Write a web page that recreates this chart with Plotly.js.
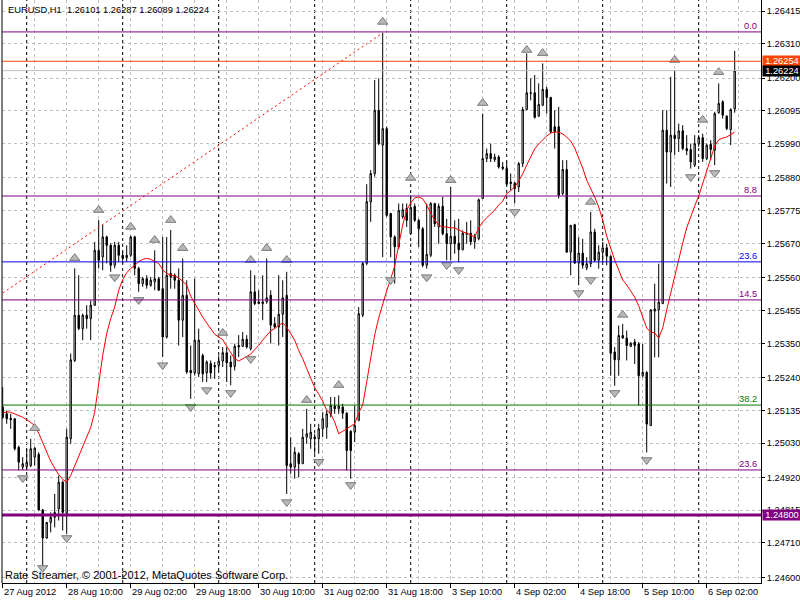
<!DOCTYPE html>
<html><head><meta charset="utf-8">
<script src="https://cdn.plot.ly/plotly-3.0.1.min.js"></script>
<style>html,body{margin:0;padding:0;background:#fff}#chart{width:800px;height:600px}</style>
</head><body><div id="chart"></div>
<script>
const symbol = "EURUSD,H1";
const footerText = "Rate Streamer, \u00a9 2001-2012, MetaQuotes Software Corp.";

const open = [1.25146,1.25124,1.25110,1.25108,1.25017,1.24953,1.24955,1.24958,1.24985,1.24994,
1.24816,1.24726,1.24776,1.24792,1.24819,1.24905,1.24805,1.25044,1.25295,1.25440,
1.25397,1.25440,1.25429,1.25472,1.25648,1.25627,1.25691,1.25664,1.25600,1.25664,
1.25632,1.25624,1.25632,1.25691,1.25590,1.25541,1.25557,1.25536,1.25547,1.25557,
1.25525,1.25370,1.25574,1.25568,1.25552,1.25424,1.25504,1.25263,1.25255,1.25252,
1.25311,1.25255,1.25285,1.25274,1.25279,1.25293,1.25320,1.25290,1.25276,1.25338,
1.25340,1.25363,1.25333,1.25515,1.25477,1.25477,1.25483,1.25504,1.25413,1.25402,
1.25443,1.25504,1.24964,1.24953,1.24996,1.24964,1.25049,1.25044,1.25049,1.25044,
1.25076,1.25081,1.25124,1.25149,1.25140,1.25146,1.25126,1.25068,1.25065,1.25103,
1.25440,1.25606,1.25803,1.25894,1.26097,1.25985,1.26038,1.25766,1.25691,1.25659,
1.25755,1.25782,1.25701,1.25789,1.25744,1.25717,1.25600,1.25632,1.25798,1.25723,
1.25789,1.25701,1.25669,1.25693,1.25671,1.25650,1.25699,1.25703,1.25675,1.25685,
1.25814,1.25942,1.25958,1.25939,1.25947,1.25915,1.25910,1.25867,1.25864,1.25851,
1.25926,1.26099,1.26151,1.26153,1.26078,1.26113,1.26164,1.26138,1.26044,1.26044,
1.25830,1.25907,1.25642,1.25730,1.25607,1.25639,1.25592,1.25605,1.25707,1.25616,
1.25642,1.25656,1.25629,1.25322,1.25297,1.25375,1.25367,1.25340,1.25354,1.25348,
1.25246,1.25257,1.25086,1.25453,1.25457,1.25477,1.26033,1.25963,1.26017,1.26006,
1.26031,1.25974,1.25971,1.25921,1.25990,1.26009,1.25942,1.25988,1.25969,1.26089,
1.26124,1.26078,1.26035,1.26101];

const high = [1.25210,1.25135,1.25124,1.25110,1.25022,1.24985,1.25012,1.25044,1.25017,1.25001,
1.24819,1.24776,1.24808,1.24867,1.24926,1.24910,1.25076,1.25317,1.25590,1.25568,
1.25445,1.25472,1.25488,1.25675,1.25745,1.25729,1.25695,1.25670,1.25675,1.25675,
1.25643,1.25664,1.25695,1.25695,1.25595,1.25563,1.25568,1.25563,1.25648,1.25563,
1.25691,1.25691,1.25713,1.25574,1.25590,1.25622,1.25552,1.25343,1.25557,1.25397,
1.25317,1.25295,1.25295,1.25290,1.25311,1.25338,1.25338,1.25311,1.25349,1.25376,
1.25386,1.25376,1.25584,1.25568,1.25520,1.25568,1.25622,1.25520,1.25434,1.25568,
1.25552,1.25579,1.25049,1.25017,1.25001,1.25076,1.25140,1.25092,1.25060,1.25092,
1.25129,1.25135,1.25178,1.25178,1.25183,1.25156,1.25129,1.25071,1.25151,1.25466,
1.25611,1.25860,1.25905,1.26194,1.26199,1.26345,1.26044,1.25768,1.25696,1.25798,
1.25798,1.25798,1.25824,1.25798,1.25749,1.25723,1.25798,1.25803,1.25800,1.25798,
1.25819,1.25749,1.25851,1.25744,1.25749,1.25712,1.25739,1.25744,1.25701,1.25814,
1.26086,1.25974,1.25990,1.25958,1.25953,1.25931,1.25931,1.25894,1.25867,1.25931,
1.26108,1.26279,1.26199,1.26210,1.26183,1.26247,1.26172,1.26140,1.26097,1.26108,
1.25937,1.25937,1.25728,1.25733,1.25690,1.25685,1.25626,1.25771,1.25717,1.25664,
1.25675,1.25669,1.25632,1.25338,1.25407,1.25412,1.25391,1.25354,1.25364,1.25354,
1.25348,1.25260,1.25460,1.25541,1.25605,1.26097,1.26097,1.26204,1.26226,1.26054,
1.26049,1.26017,1.25990,1.26017,1.26017,1.26022,1.25990,1.26001,1.26092,1.26183,
1.26129,1.26081,1.26103,1.26287];

const low = [1.25108,1.25092,1.25076,1.25006,1.24943,1.24943,1.24943,1.24953,1.24958,1.24814,
1.24637,1.24723,1.24744,1.24760,1.24782,1.24750,1.24739,1.25028,1.25290,1.25392,
1.25360,1.25397,1.25360,1.25470,1.25590,1.25584,1.25606,1.25579,1.25590,1.25611,
1.25606,1.25611,1.25627,1.25568,1.25515,1.25531,1.25525,1.25531,1.25520,1.25518,
1.25306,1.25365,1.25525,1.25525,1.25343,1.25370,1.25252,1.25172,1.25247,1.25242,
1.25226,1.25226,1.25236,1.25236,1.25263,1.25274,1.25226,1.25215,1.25263,1.25306,
1.25338,1.25333,1.25327,1.25472,1.25475,1.25424,1.25477,1.25349,1.25397,1.25343,
1.25370,1.24867,1.24932,1.24916,1.24921,1.24964,1.25028,1.25012,1.24996,1.24996,
1.25049,1.25044,1.25113,1.25124,1.25124,1.25108,1.24943,1.24916,1.25033,1.25100,
1.25434,1.25600,1.25739,1.25884,1.25985,1.25626,1.25755,1.25626,1.25541,1.25653,
1.25749,1.25723,1.25701,1.25739,1.25659,1.25594,1.25589,1.25626,1.25723,1.25669,
1.25696,1.25616,1.25616,1.25637,1.25610,1.25648,1.25669,1.25664,1.25653,1.25680,
1.25814,1.25931,1.25931,1.25931,1.25910,1.25905,1.25856,1.25840,1.25798,1.25835,
1.25915,1.26097,1.26129,1.26070,1.26076,1.26110,1.26086,1.26022,1.25974,1.25814,
1.25824,1.25642,1.25568,1.25605,1.25536,1.25589,1.25584,1.25594,1.25610,1.25589,
1.25610,1.25600,1.25246,1.25214,1.25246,1.25364,1.25295,1.25338,1.25284,1.25150,
1.25240,1.25000,1.25086,1.25305,1.25305,1.25477,1.25862,1.25851,1.25953,1.25963,
1.25969,1.25953,1.25910,1.25915,1.25980,1.25931,1.25937,1.25937,1.25921,1.26086,
1.26070,1.26033,1.25985,1.26089];

const close = [1.25113,1.25108,1.25105,1.25012,1.24969,1.24964,1.24969,1.25012,1.25014,1.24816,
1.24726,1.24776,1.24792,1.24808,1.24905,1.24808,1.25049,1.25297,1.25440,1.25397,
1.25440,1.25429,1.25472,1.25648,1.25616,1.25691,1.25664,1.25600,1.25664,1.25632,
1.25622,1.25632,1.25691,1.25590,1.25541,1.25557,1.25536,1.25552,1.25557,1.25520,
1.25370,1.25568,1.25563,1.25552,1.25424,1.25504,1.25258,1.25255,1.25360,1.25360,
1.25252,1.25290,1.25255,1.25279,1.25293,1.25320,1.25287,1.25274,1.25340,1.25343,
1.25363,1.25338,1.25515,1.25477,1.25483,1.25483,1.25496,1.25408,1.25402,1.25443,
1.25496,1.24958,1.24953,1.25001,1.24964,1.25049,1.25060,1.25065,1.25044,1.25076,
1.25108,1.25124,1.25151,1.25140,1.25149,1.25126,1.25006,1.25006,1.25087,1.25445,
1.25606,1.25804,1.25894,1.26097,1.25990,1.26038,1.25760,1.25691,1.25659,1.25776,
1.25778,1.25744,1.25785,1.25744,1.25717,1.25600,1.25635,1.25798,1.25733,1.25789,
1.25701,1.25669,1.25693,1.25669,1.25650,1.25703,1.25703,1.25675,1.25691,1.25810,
1.25942,1.25958,1.25942,1.25947,1.25915,1.25910,1.25860,1.25862,1.25846,1.25926,
1.26099,1.26153,1.26153,1.26074,1.26116,1.26164,1.26138,1.26028,1.26028,1.25824,
1.25907,1.25642,1.25728,1.25607,1.25639,1.25600,1.25605,1.25707,1.25616,1.25642,
1.25656,1.25629,1.25318,1.25297,1.25375,1.25367,1.25343,1.25350,1.25343,1.25246,
1.25257,1.25091,1.25457,1.25460,1.25482,1.26033,1.25963,1.26017,1.26006,1.26031,
1.25974,1.25967,1.25931,1.25990,1.26009,1.25942,1.25985,1.25971,1.26086,1.26119,
1.26081,1.26038,1.26099,1.26224];

const maValues = [1.25126,1.25130,1.25129,1.25124,1.25119,1.25113,1.25105,1.25097,1.25087,1.25062,
1.25030,1.24998,1.24972,1.24950,1.24929,1.24914,1.24905,1.24926,1.24958,1.24990,
1.25020,1.25048,1.25080,1.25129,1.25221,1.25311,1.25381,1.25429,1.25466,1.25520,
1.25554,1.25576,1.25590,1.25599,1.25612,1.25619,1.25622,1.25619,1.25612,1.25606,
1.25586,1.25574,1.25569,1.25566,1.25560,1.25549,1.25537,1.25501,1.25477,1.25456,
1.25434,1.25415,1.25397,1.25379,1.25370,1.25362,1.25340,1.25319,1.25301,1.25293,
1.25301,1.25308,1.25315,1.25330,1.25343,1.25360,1.25376,1.25390,1.25397,1.25408,
1.25415,1.25402,1.25381,1.25360,1.25327,1.25301,1.25269,1.25236,1.25208,1.25187,
1.25165,1.25135,1.25124,1.25098,1.25060,1.25068,1.25076,1.25083,1.25092,1.25127,
1.25152,1.25226,1.25306,1.25377,1.25431,1.25479,1.25518,1.25556,1.25598,1.25665,
1.25729,1.25777,1.25800,1.25816,1.25819,1.25813,1.25793,1.25768,1.25745,1.25729,
1.25723,1.25723,1.25720,1.25720,1.25713,1.25707,1.25703,1.25697,1.25691,1.25720,
1.25739,1.25752,1.25764,1.25777,1.25793,1.25806,1.25829,1.25841,1.25851,1.25870,
1.25893,1.25921,1.25947,1.25973,1.25989,1.26002,1.26014,1.26024,1.26027,1.26027,
1.26021,1.26011,1.25998,1.25976,1.25944,1.25912,1.25873,1.25848,1.25819,1.25787,
1.25745,1.25694,1.25655,1.25617,1.25585,1.25553,1.25537,1.25518,1.25498,1.25470,
1.25431,1.25399,1.25386,1.25383,1.25367,1.25399,1.25457,1.25511,1.25559,1.25623,
1.25671,1.25720,1.25758,1.25790,1.25822,1.25864,1.25905,1.25944,1.25982,1.26002,
1.26008,1.26011,1.26018,1.26027];

const upFractalBars = [8,18,24,32,38,42,45,55,62,66,71,76,84,95,102,112,120,131,135,147,155,168,175,179];
const upFractalPrices = [1.25078,1.25623,1.25777,1.25723,1.25681,1.25745,1.25655,1.25383,1.25617,1.25655,1.25617,1.25168,1.25216,1.26380,1.25880,1.25873,1.26120,1.26290,1.26280,1.25803,1.25441,1.26258,1.26066,1.26219];
const downFractalBars = [5,10,16,28,34,40,47,51,57,62,71,79,87,97,106,111,114,128,144,147,153,161,172,178];
const downFractalPrices = [1.24918,1.24630,1.24726,1.25562,1.25489,1.25280,1.25146,1.25200,1.25191,1.25300,1.24841,1.24970,1.24896,1.25553,1.25562,1.25601,1.25585,1.25771,1.25511,1.25553,1.25191,1.24976,1.25883,1.25896];

const trendBars = [-1, 95];
const trendPrices = [1.25502, 1.26345];

const fibLevels = [1.26348, 1.25822, 1.25611, 1.25489, 1.25152, 1.24944];
const fibTexts = ["0.0", "8.8", "23.6", "14.5", "38.2", "23.6"];
const alertLevel = 1.26254;
const bidLevel = 1.26224;
const supportLevel = 1.24800;

const priceTicks = [1.26415,1.26310,1.26200,1.26095,1.25990,1.25880,1.25775,1.25670,1.25560,1.25455,1.25350,1.25240,1.25135,1.25030,1.24920,1.24815,1.24710,1.24600];
const timeLabelBars = [0,16,32,48,64,80,96,112,128,144,160,176];
const timeLabels = ["27 Aug 2012","28 Aug 10:00","29 Aug 02:00","29 Aug 18:00","30 Aug 10:00","31 Aug 02:00","31 Aug 18:00","3 Sep 10:00","4 Sep 02:00","4 Sep 18:00","5 Sep 10:00","6 Sep 02:00"];
const daySeparatorBars = [6,30,54,78,102,126,150,174];

// ---- styles ----
const FONT = "'Liberation Sans', Arial, sans-serif";
const fibColors = ['#800080','#800080','#0000ff','#800080','#007a00','#800080'];
const GRID = '#c0c0c0';

const barIdx = open.map((_, i) => i);
const last = open.length - 1;

const traces = [
  {
    type: 'candlestick', x: barIdx, open: open, high: high, low: low, close: close,
    increasing: {line: {color: '#000000', width: 1}, fillcolor: '#ffffff'},
    decreasing: {line: {color: '#000000', width: 1}, fillcolor: '#000000'},
    whiskerwidth: 0, hoverinfo: 'skip', showlegend: false
  },
  {
    type: 'scatter', mode: 'lines', x: barIdx, y: maValues,
    line: {color: '#ff0000', width: 1}, hoverinfo: 'skip', showlegend: false
  },
  {
    type: 'scatter', mode: 'lines', x: trendBars, y: trendPrices,
    line: {color: '#ff0000', width: 1, dash: '2px,3px'}, hoverinfo: 'skip', showlegend: false
  },
  {
    type: 'scatter', mode: 'markers', x: upFractalBars, y: upFractalPrices,
    marker: {symbol: 'triangle-up', size: 9, color: '#b8b8b8', line: {color: '#7a7a7a', width: 1}},
    hoverinfo: 'skip', showlegend: false
  },
  {
    type: 'scatter', mode: 'markers', x: downFractalBars, y: downFractalPrices,
    marker: {symbol: 'triangle-down', size: 9, color: '#b8b8b8', line: {color: '#7a7a7a', width: 1}},
    hoverinfo: 'skip', showlegend: false
  }
];

const shapes = [];
daySeparatorBars.forEach(b => shapes.push({
  type: 'line', xref: 'x', yref: 'paper', x0: b, x1: b, y0: 0, y1: 1,
  line: {color: '#000000', width: 1, dash: '3px,3px'}, layer: 'below'
}));
fibLevels.forEach((p, i) => shapes.push({
  type: 'line', xref: 'paper', yref: 'y', x0: 0, x1: 1, y0: p, y1: p,
  line: {color: fibColors[i], width: 1}, layer: 'above'
}));
shapes.push({type: 'line', xref: 'paper', yref: 'y', x0: 0, x1: 1, y0: alertLevel, y1: alertLevel, line: {color: '#ff4500', width: 1}, layer: 'above'});
shapes.push({type: 'line', xref: 'paper', yref: 'y', x0: 0, x1: 1, y0: bidLevel, y1: bidLevel, line: {color: '#c0c0c0', width: 1}, layer: 'above'});
shapes.push({type: 'line', xref: 'paper', yref: 'y', x0: 0, x1: 1, y0: supportLevel, y1: supportLevel, line: {color: '#800080', width: 3}, layer: 'above'});
shapes.push({type: 'line', xref: 'paper', yref: 'paper', x0: 0, x1: 0, y0: 0, y1: 1, line: {color: '#000000', width: 1}, layer: 'above'});

const annotations = [];
fibLevels.forEach((p, i) => annotations.push({
  xref: 'paper', yref: 'y', x: 0.9965, y: p, xanchor: 'right', yanchor: 'bottom',
  text: fibTexts[i], showarrow: false, font: {family: FONT, size: 9.3, color: fibColors[i]}, borderpad: 0
}));
timeLabelBars.forEach((b, i) => annotations.push({
  xref: 'x', yref: 'paper', x: b, y: 0, xanchor: 'left', yanchor: 'top', yshift: -2, xshift: -1,
  text: timeLabels[i], showarrow: false, font: {family: FONT, size: 9.3, color: '#000000'}
}));
const boxLabel = (p, bg) => ({
  xref: 'paper', yref: 'y', x: 1, y: p, xanchor: 'left', yanchor: 'middle', xshift: 1,
  text: p.toFixed(5), showarrow: false, bgcolor: bg, borderpad: 0, width: 38, height: 10,
  font: {family: FONT, size: 9.3, color: '#ffffff'}
});
annotations.push(boxLabel(alertLevel, '#ff4500'));
annotations.push(boxLabel(bidLevel, '#000000'));
annotations.push(boxLabel(supportLevel, '#800080'));
annotations.push({
  xref: 'paper', yref: 'paper', x: 0, y: 1, xanchor: 'left', yanchor: 'top', xshift: 4, yshift: -3,
  text: symbol + '\u00a0\u00a0' + [open[last], high[last], low[last], close[last]].map(v => v.toFixed(5)).join(' '),
  showarrow: false, font: {family: FONT, size: 9.3, color: '#000000'}
});
annotations.push({
  xref: 'paper', yref: 'paper', x: 0, y: 0, xanchor: 'left', yanchor: 'bottom', xshift: 1, yshift: 0,
  text: footerText, showarrow: false, font: {family: FONT, size: 11, color: '#000000'}
});

const layout = {
  width: 800, height: 600,
  margin: {l: 2, r: 39, t: 0, b: 17, pad: 0},
  paper_bgcolor: '#ffffff', plot_bgcolor: '#ffffff',
  font: {family: FONT, size: 9.3, color: '#000000'},
  showlegend: false, hovermode: false, boxgap: 0.5,
  xaxis: {
    range: [-0.175, 189.575], rangeslider: {visible: false}, fixedrange: true,
    tickmode: 'linear', tick0: 0, dtick: 16, showticklabels: false,
    ticks: 'outside', ticklen: 4, tickcolor: '#000000', tickwidth: 1,
    showgrid: true, gridcolor: GRID, griddash: 'dot', gridwidth: 1,
    minor: {tickmode: 'linear', tick0: 0, dtick: 8, showgrid: true, gridcolor: GRID, griddash: 'dot', gridwidth: 1, ticks: ''},
    showline: true, linecolor: '#000000', linewidth: 1, zeroline: false
  },
  yaxis: {
    range: [1.245817, 1.264503], side: 'right', fixedrange: true,
    tickmode: 'array', tickvals: priceTicks, tickformat: '.5f',
    ticks: 'outside', ticklen: 3, tickcolor: '#000000',
    tickfont: {family: FONT, size: 9.3, color: '#000000'},
    showgrid: true, gridcolor: GRID, griddash: 'dot', gridwidth: 1,
    showline: true, linecolor: '#000000', linewidth: 1, zeroline: false
  },
  shapes: shapes, annotations: annotations
};

Plotly.newPlot('chart', traces, layout, {displayModeBar: false, staticPlot: true});
</script></body></html>
